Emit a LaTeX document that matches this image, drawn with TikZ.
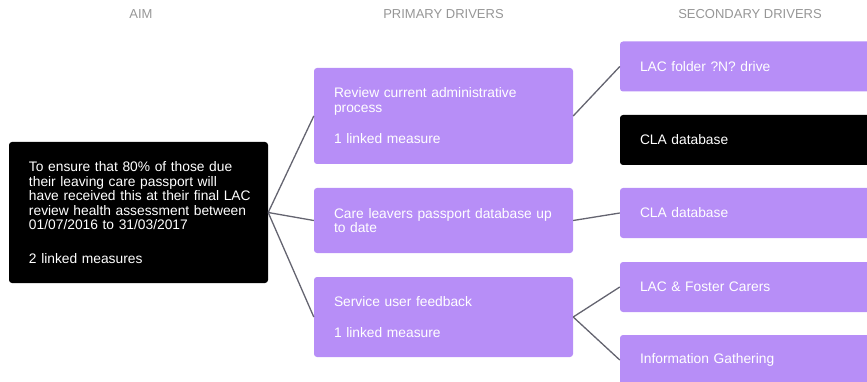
\documentclass[tikz,border=0pt]{standalone}
\usepackage{fontspec}
\setmainfont{Liberation Sans}
\definecolor{drvpurple}{RGB}{183,142,247}
\definecolor{linkgray}{RGB}{100,100,112}
\definecolor{headgray}{RGB}{150,150,150}
\tikzset{
  box/.style={rectangle, rounded corners=3pt, inner xsep=0pt, inner ysep=0pt,
    align=left, text=white, font=\fontsize{13.8}{14.5}\selectfont,
    execute at begin node={\leftskip=20pt\relax}},
  aimbox/.style={box, fill=black, text width=259pt, minimum width=259pt, minimum height=141pt},
  primbox/.style={box, fill=drvpurple, text width=259pt, minimum width=259pt},
  secbox/.style={box, fill=drvpurple, text width=260pt, minimum width=260pt, minimum height=50pt},
  secdark/.style={secbox, fill=black},
  head/.style={text=headgray, font=\fontsize{13}{14}\selectfont},
  link/.style={draw=linkgray, line width=1.3pt}
}
\begin{document}
\begin{tikzpicture}[x=1pt,y=-1pt]
\useasboundingbox (0,0) rectangle (867,382);
\clip (0,0) rectangle (867,382);
\node[head] (hAim) at (141,14) {AIM};
\node[head] (hPrim) at (443.5,14) {PRIMARY DRIVERS};
\node[head] (hSec) at (750,14) {SECONDARY DRIVERS};

\node[aimbox] (aim) at (138.5,212.5) {To ensure that 80\% of those due\\their leaving care passport will\\have received this at their final LAC\\review health assessment between\\01/07/2016 to 31/03/2017\\[19pt]2 linked measures};

\node[primbox, minimum height=96pt] (p1) at (443.5,116) {Review current administrative\\process\\[17pt]1 linked measure};
\node[primbox, minimum height=65pt] (p2) at (443.5,220.5) {Care leavers passport database up\\to date};
\node[primbox, minimum height=80pt] (p3) at (443.5,317) {Service user feedback\\[17pt]1 linked measure};

\node[secbox] (s1) at (750,66.5) {LAC folder ?N? drive};
\node[secdark] (s2) at (750,140) {CLA database};
\node[secbox] (s3) at (750,213) {CLA database};
\node[secbox] (s4) at (750,287) {LAC \& Foster Carers};
\node[secbox] (s5) at (750,360) {Information Gathering};

\draw[link] (aim.east) -- (p1.west);
\draw[link] (aim.east) -- (p2.west);
\draw[link] (aim.east) -- (p3.west);
\draw[link] (p1.east) -- (s1.west);
\draw[link] (p2.east) -- (s3.west);
\draw[link] (p3.east) -- (s4.west);
\draw[link] (p3.east) -- (s5.west);
\end{tikzpicture}
\end{document}
